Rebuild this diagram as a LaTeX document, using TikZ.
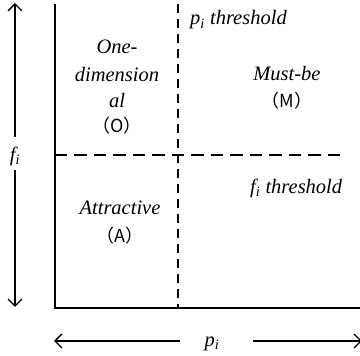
\documentclass[tikz,border=0pt]{standalone}
\usepackage{fontspec}
\setmainfont{Liberation Serif}
\newfontfamily\cjk{Noto Sans CJK SC}
\usetikzlibrary{arrows.meta}
\tikzset{
  axis/.style={line width=1.3pt, black},
  dashA/.style={line width=1.3pt, dash pattern=on 12.5pt off 7pt},
  dashB/.style={line width=1.3pt, dash pattern=on 9pt off 6pt},
  dbl/.style={line width=1.3pt, -{Straight Barb[length=7pt,width=14pt,line width=1.3pt]}},
  lbl/.style={font=\fontsize{20.5}{26}\selectfont\itshape, align=center, inner sep=0pt},
  tag/.style={font=\fontsize{18}{26}\selectfont\cjk\addfontfeatures{Scale=1}, inner sep=0pt}
}
\begin{document}
\begin{tikzpicture}[x=1pt,y=-1pt]
\useasboundingbox (0,0) rectangle (360,356);
% axes
\coordinate (tl) at (55,4);
\coordinate (bl) at (55,308);
\coordinate (br) at (361,308);
\draw[axis] (tl) -- (bl) -- (br);
% thresholds
\coordinate (vt) at (178,4);
\coordinate (vb) at (178,308);
\coordinate (hl) at (55,155);
\coordinate (hr) at (342,155);
\draw[dashB] (vt) -- (vb);
\draw[dashA] (hl) -- (hr);
% left double arrow
\node[lbl] (fi) at (15,156) {f\textsubscript{i}};
\coordinate (fup) at (15,3);
\coordinate (fdn) at (15,307);
\draw[dbl] (15,137) -- (fup);
\draw[dbl] (15,170) -- (fdn);
% bottom double arrow
\node[lbl] (pi) at (212,344) {p\textsubscript{i}};
\coordinate (pl) at (54,341);
\coordinate (pr) at (362,341);
\draw[dbl] (180,341) -- (pl);
\draw[dbl] (253,341) -- (pr);
% labels
\node[lbl, anchor=west] (pth) at (190,20) {p\textsubscript{i} threshold};
\node[lbl, anchor=west] (fth) at (250,188) {f\textsubscript{i} threshold};
\node[lbl] (one1) at (117,47) {One-};
\node[lbl] (one2) at (117,74) {dimension};
\node[lbl] (one3) at (117,100) {al};
\node[tag] (one4) at (117,126) {（O）};
\node[lbl] (must) at (287,74) {Must-be};
\node[tag] (mtag) at (287,101) {（M）};
\node[lbl] (attr) at (120,208) {Attractive};
\node[tag] (atag) at (120,236) {（A）};
\end{tikzpicture}
\end{document}
